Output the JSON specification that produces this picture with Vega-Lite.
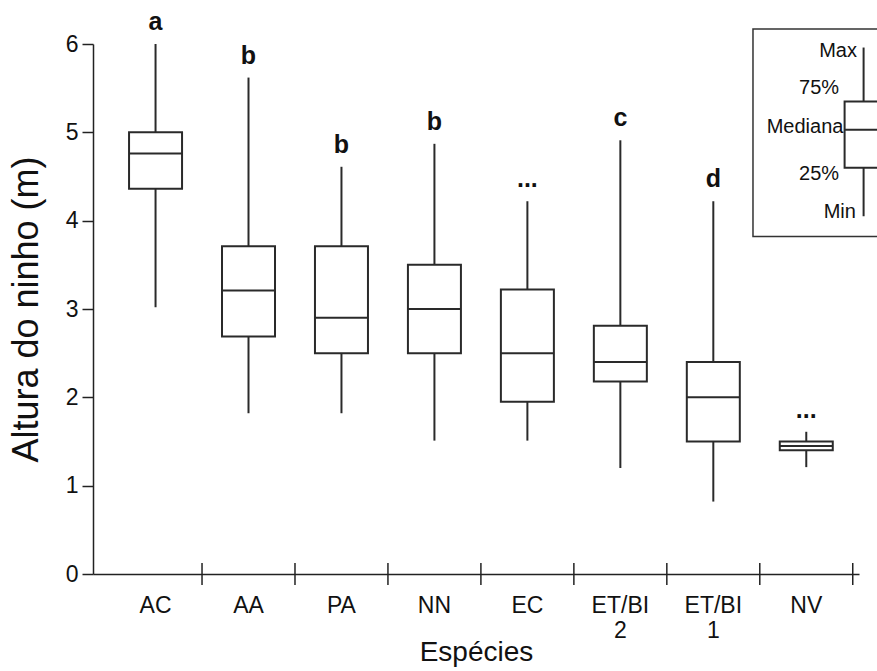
{
  "$schema": "https://vega.github.io/schema/vega-lite/v6.json",
  "width": 766,
  "height": 530,
  "autosize": {"type": "none"},
  "padding": {"left": 93, "top": 44, "right": 18, "bottom": 97},
  "config": {
    "view": {"stroke": null},
    "font": "Liberation Sans",
    "text": {"color": "#111"}
  },
  "datasets": {
    "boxes": [
      {"species": "AC", "min": 3.02, "q1": 4.36, "median": 4.76, "q3": 5.0, "max": 6.0, "group": "a"},
      {"species": "AA", "min": 1.82, "q1": 2.69, "median": 3.21, "q3": 3.71, "max": 5.62, "group": "b"},
      {"species": "PA", "min": 1.82, "q1": 2.5, "median": 2.9, "q3": 3.71, "max": 4.61, "group": "b"},
      {"species": "NN", "min": 1.51, "q1": 2.5, "median": 3.0, "q3": 3.5, "max": 4.87, "group": "b"},
      {"species": "EC", "min": 1.51, "q1": 1.95, "median": 2.5, "q3": 3.22, "max": 4.22, "group": "..."},
      {"species": "ET/BI 2", "min": 1.2, "q1": 2.18, "median": 2.4, "q3": 2.81, "max": 4.91, "group": "c"},
      {"species": "ET/BI 1", "min": 0.82, "q1": 1.5, "median": 2.0, "q3": 2.4, "max": 4.22, "group": "d"},
      {"species": "NV", "min": 1.21, "q1": 1.4, "median": 1.45, "q3": 1.5, "max": 1.61, "group": "..."}
    ],
    "legendStats": [
      {"min": 4.05, "q1": 4.6, "median": 5.03, "q3": 5.35, "max": 5.96}
    ],
    "legendLabels": [
      {"label": "Max", "value": 5.96},
      {"label": "75%", "value": 5.35},
      {"label": "Mediana", "value": 5.03},
      {"label": "25%", "value": 4.6},
      {"label": "Min", "value": 4.05}
    ]
  },
  "layer": [
    {
      "data": {"name": "boxes"},
      "encoding": {
        "x": {
          "field": "species",
          "type": "nominal",
          "sort": null,
          "scale": {"paddingInner": 0, "paddingOuter": 0.12, "align": 0.72},
          "axis": {
            "title": "Espécies",
            "titleFontSize": 28,
            "titleFontWeight": "normal",
            "titleColor": "#111",
            "titlePadding": -4,
            "labelFontSize": 23,
            "labelColor": "#111",
            "labelAngle": 0,
            "labelExpr": "split(datum.label, ' ')",
            "labelLineHeight": 25,
            "labelPadding": 20,
            "ticks": false,
            "tickSize": 0,
            "domainColor": "#222",
            "domainWidth": 1.5
          }
        }
      },
      "layer": [
        {
          "mark": {"type": "rule", "color": "#2a2a2a", "strokeWidth": 2},
          "encoding": {
            "y": {
              "field": "min",
              "type": "quantitative",
              "title": "Altura do ninho (m)",
              "scale": {"domain": [0, 6], "nice": false, "zero": true},
              "axis": {
                "values": [0, 1, 2, 3, 4, 5, 6],
                "format": "d",
                "tickSize": 11,
                "tickWidth": 1.5,
                "tickColor": "#222",
                "domainColor": "#222",
                "domainWidth": 1.5,
                "grid": false,
                "labelFontSize": 23,
                "labelColor": "#111",
                "labelPadding": 4,
                "titleFontSize": 36,
                "titleFontWeight": "normal",
                "titleColor": "#111",
                "titlePadding": 20
              }
            },
            "y2": {"field": "q1"}
          }
        },
        {
          "mark": {"type": "rule", "color": "#2a2a2a", "strokeWidth": 2},
          "encoding": {
            "y": {"field": "q3", "type": "quantitative", "title": "Altura do ninho (m)"},
            "y2": {"field": "max"}
          }
        },
        {
          "mark": {"type": "bar", "width": 53, "fill": "white", "stroke": "#2a2a2a", "strokeWidth": 2},
          "encoding": {
            "y": {"field": "q1", "type": "quantitative", "title": "Altura do ninho (m)"},
            "y2": {"field": "q3"}
          }
        },
        {
          "mark": {"type": "tick", "orient": "horizontal", "size": 53, "thickness": 2, "color": "#2a2a2a", "opacity": 1},
          "encoding": {
            "y": {"field": "median", "type": "quantitative", "title": "Altura do ninho (m)"}
          }
        },
        {
          "mark": {"type": "text", "fontSize": 25, "fontWeight": "bold", "baseline": "alphabetic", "align": "center", "dy": -14, "color": "#111"},
          "encoding": {
            "y": {"field": "max", "type": "quantitative", "title": "Altura do ninho (m)"},
            "text": {"field": "group"}
          }
        },
        {
          "mark": {"type": "rule", "color": "#222", "strokeWidth": 1.5},
          "encoding": {
            "x": {"field": "species", "type": "nominal", "sort": null, "bandPosition": 1},
            "y": {"datum": -0.125, "type": "quantitative", "title": "Altura do ninho (m)"},
            "y2": {"datum": 0.125}
          }
        }
      ]
    },
    {
      "layer": [
        {
          "data": {"name": "legendStats"},
          "mark": {"type": "rect", "fill": "white", "stroke": "#333", "strokeWidth": 1.5},
          "encoding": {
            "x": {"datum": 86.16, "type": "quantitative", "scale": {"domain": [0, 100], "nice": false, "zero": false}, "axis": null},
            "x2": {"datum": 102.8},
            "y": {"datum": 3.82, "type": "quantitative", "title": "Altura do ninho (m)"},
            "y2": {"datum": 6.17}
          }
        },
        {
          "data": {"name": "legendStats"},
          "mark": {"type": "rule", "color": "#2a2a2a", "strokeWidth": 2},
          "encoding": {
            "x": {"datum": 100.6, "type": "quantitative", "axis": null},
            "y": {"field": "q3", "type": "quantitative", "title": "Altura do ninho (m)"},
            "y2": {"field": "max"}
          }
        },
        {
          "data": {"name": "legendStats"},
          "mark": {"type": "rule", "color": "#2a2a2a", "strokeWidth": 2},
          "encoding": {
            "x": {"datum": 100.6, "type": "quantitative", "axis": null},
            "y": {"field": "min", "type": "quantitative", "title": "Altura do ninho (m)"},
            "y2": {"field": "q1"}
          }
        },
        {
          "data": {"name": "legendStats"},
          "mark": {"type": "rect", "fill": "white", "stroke": "#2a2a2a", "strokeWidth": 2},
          "encoding": {
            "x": {"datum": 98.12, "type": "quantitative", "axis": null},
            "x2": {"datum": 103.1},
            "y": {"field": "q1", "type": "quantitative", "title": "Altura do ninho (m)"},
            "y2": {"field": "q3"}
          }
        },
        {
          "data": {"name": "legendStats"},
          "mark": {"type": "rule", "color": "#2a2a2a", "strokeWidth": 2},
          "encoding": {
            "x": {"datum": 98.12, "type": "quantitative", "axis": null},
            "x2": {"datum": 103.1},
            "y": {"field": "median", "type": "quantitative", "title": "Altura do ninho (m)"}
          }
        },
        {
          "data": {"name": "legendLabels"},
          "transform": [{"filter": "datum.label == 'Max'"}],
          "mark": {"type": "text", "fontSize": 20, "align": "right", "baseline": "middle", "dy": 3, "color": "#111"},
          "encoding": {
            "x": {"datum": 99.74, "type": "quantitative", "axis": null},
            "y": {"field": "value", "type": "quantitative", "title": "Altura do ninho (m)"},
            "text": {"field": "label"}
          }
        },
        {
          "data": {"name": "legendLabels"},
          "transform": [{"filter": "datum.label == '75%'"}],
          "mark": {"type": "text", "fontSize": 20, "align": "right", "baseline": "middle", "dy": -13, "color": "#111"},
          "encoding": {
            "x": {"datum": 97.4, "type": "quantitative", "axis": null},
            "y": {"field": "value", "type": "quantitative", "title": "Altura do ninho (m)"},
            "text": {"field": "label"}
          }
        },
        {
          "data": {"name": "legendLabels"},
          "transform": [{"filter": "datum.label == 'Mediana'"}],
          "mark": {"type": "text", "fontSize": 20, "align": "right", "baseline": "middle", "dy": -3, "color": "#111"},
          "encoding": {
            "x": {"datum": 97.96, "type": "quantitative", "axis": null},
            "y": {"field": "value", "type": "quantitative", "title": "Altura do ninho (m)"},
            "text": {"field": "label"}
          }
        },
        {
          "data": {"name": "legendLabels"},
          "transform": [{"filter": "datum.label == '25%'"}],
          "mark": {"type": "text", "fontSize": 20, "align": "right", "baseline": "middle", "dy": 6, "color": "#111"},
          "encoding": {
            "x": {"datum": 97.4, "type": "quantitative", "axis": null},
            "y": {"field": "value", "type": "quantitative", "title": "Altura do ninho (m)"},
            "text": {"field": "label"}
          }
        },
        {
          "data": {"name": "legendLabels"},
          "transform": [{"filter": "datum.label == 'Min'"}],
          "mark": {"type": "text", "fontSize": 20, "align": "right", "baseline": "middle", "dy": -4, "color": "#111"},
          "encoding": {
            "x": {"datum": 99.6, "type": "quantitative", "axis": null},
            "y": {"field": "value", "type": "quantitative", "title": "Altura do ninho (m)"},
            "text": {"field": "label"}
          }
        }
      ]
    }
  ],
  "resolve": {"scale": {"x": "independent"}}
}
